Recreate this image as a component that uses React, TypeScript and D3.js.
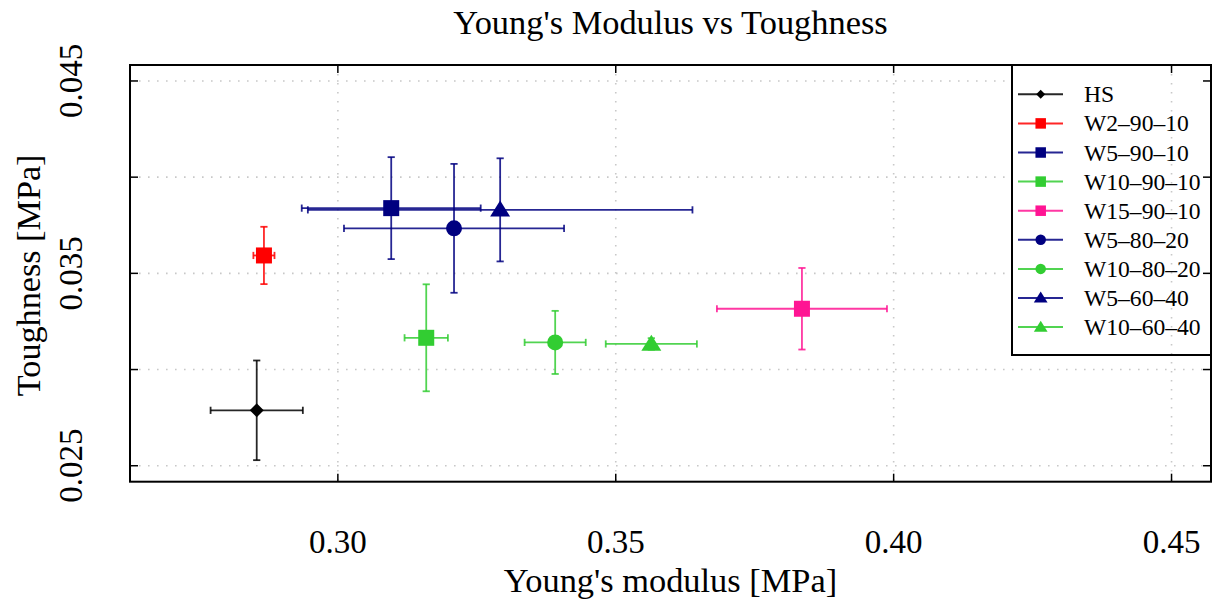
import React from "react";
import * as d3 from "d3";

const seriesNames = ["HS", "W2–90–10", "W5–90–10", "W10–90–10", "W15–90–10", "W5–80–20", "W10–80–20", "W5–60–40", "W10–60–40"];
const modulus = [0.2854, 0.2867, 0.3096, 0.3159, 0.3835, 0.3209, 0.3391, 0.3292, 0.3564];
const modulusErr = [0.0083, 0.0019, 0.0161, 0.0039, 0.0153, 0.0198, 0.0055, 0.0346, 0.0082];
const toughness = [0.02788, 0.03593, 0.03839, 0.03165, 0.03316, 0.03734, 0.03141, 0.0383, 0.03133];
const toughnessErr = [0.00259, 0.00149, 0.00265, 0.00278, 0.00212, 0.00335, 0.00164, 0.00268, 0.0003];
const seriesColors = ["#000000", "#ff0000", "#000080", "#32cd32", "#ff1493", "#000080", "#32cd32", "#000080", "#32cd32"];
const seriesMarkers = ["diamond", "square", "square", "square", "square", "circle", "circle", "triangle", "triangle"];
const xTicks = [0.3, 0.35, 0.4, 0.45];
const yTicks = [0.025, 0.03, 0.035, 0.04, 0.045];
const yTickLabels = [0.025, 0.035, 0.045];
const xDomain = [0.2626, 0.4571];
const yDomain = [0.02417, 0.04583];

const W = 1217;
const H = 609;
const L = 130, R = 1211, T = 65, B = 481.7;
const FONT = "'Liberation Serif', 'Times New Roman', serif";

function Marker({ type, cx, cy, s, color }: { type: string; cx: number; cy: number; s: number; color: string }) {
  if (type === "square") {
    return <rect x={cx - s / 2} y={cy - s / 2} width={s} height={s} fill={color} />;
  }
  if (type === "circle") {
    return <circle cx={cx} cy={cy} r={s / 2} fill={color} />;
  }
  if (type === "diamond") {
    const h = s / 2;
    return <path d={`M${cx},${cy - h}L${cx + h},${cy}L${cx},${cy + h}L${cx - h},${cy}Z`} fill={color} />;
  }
  const w = s * 1.25;
  return <path d={`M${cx},${cy - s * 0.58}L${cx + w / 2},${cy + s * 0.42}L${cx - w / 2},${cy + s * 0.42}Z`} fill={color} />;
}

export default function App() {
  const x = d3.scaleLinear().domain(xDomain).range([L, R]);
  const y = d3.scaleLinear().domain(yDomain).range([B, T]);
  const tick = 8;
  const cap = 3.6;
  const legX = 1012, legY = T, legW = R - 1012, legH = 355 - T;
  const rowY = (i: number) => 94.3 + i * 29.1;

  return (
    <svg width={W} height={H} style={{ position: "absolute", left: 0, top: 0, background: "#fff" }} fontFamily={FONT}>
      <rect x={0} y={0} width={W} height={H} fill="#fff" />
      {yTicks.map((t) => (
        <line key={"gy" + t} x1={L} x2={R} y1={y(t)} y2={y(t)} stroke="#c8c8c8" strokeWidth={1.6} strokeDasharray="1.6 7.4" />
      ))}
      <rect x={legX} y={legY} width={legW} height={legH} fill="#fff" />
      {xTicks.map((t) => (
        <line key={"gx" + t} x1={x(t)} x2={x(t)} y1={T} y2={B} stroke="#c8c8c8" strokeWidth={1.6} strokeDasharray="1.6 7.4" />
      ))}
      {seriesNames.map((n, i) => {
        const cx = x(modulus[i]);
        const cy = y(toughness[i]);
        const x0 = x(modulus[i] - modulusErr[i]);
        const x1 = x(modulus[i] + modulusErr[i]);
        const y0 = y(toughness[i] - toughnessErr[i]);
        const y1 = y(toughness[i] + toughnessErr[i]);
        const c = seriesColors[i];
        return (
          <g key={"e" + n} stroke={c} strokeWidth={1.8} strokeOpacity={0.85}>
            <line x1={x0} x2={x1} y1={cy} y2={cy} />
            <line x1={x0} x2={x0} y1={cy - cap} y2={cy + cap} />
            <line x1={x1} x2={x1} y1={cy - cap} y2={cy + cap} />
            <line x1={cx} x2={cx} y1={y0} y2={y1} />
            <line x1={cx - cap} x2={cx + cap} y1={y0} y2={y0} />
            <line x1={cx - cap} x2={cx + cap} y1={y1} y2={y1} />
          </g>
        );
      })}
      {seriesNames.map((n, i) => (
        <Marker key={"m" + n} type={seriesMarkers[i]} cx={x(modulus[i])} cy={y(toughness[i])} s={seriesMarkers[i] === "diamond" ? 14 : 16} color={seriesColors[i]} />
      ))}
      <rect x={L} y={T} width={R - L} height={B - T} fill="none" stroke="#000" strokeWidth={2} />
      {xTicks.map((t) => (
        <g key={"xt" + t} stroke="#000" strokeWidth={1.5}>
          <line x1={x(t)} x2={x(t)} y1={B} y2={B - tick} />
          <line x1={x(t)} x2={x(t)} y1={T} y2={T + tick} />
        </g>
      ))}
      {yTicks.map((t) => (
        <g key={"yt" + t} stroke="#000" strokeWidth={1.5}>
          <line x1={L} x2={L + tick} y1={y(t)} y2={y(t)} />
          <line x1={R} x2={R - tick} y1={y(t)} y2={y(t)} />
        </g>
      ))}
      {xTicks.map((t) => (
        <text key={"xl" + t} x={x(t)} y={553} textAnchor="middle" fontSize={33} fill="#000">
          {d3.format(".2f")(t)}
        </text>
      ))}
      {yTickLabels.map((t) => (
        <text key={"yl" + t} transform={`translate(82,${y(t)}) rotate(-90)`} textAnchor="middle" fontSize={33} fill="#000">
          {d3.format(".3f")(t)}
        </text>
      ))}
      <text x={(L + R) / 2} y={34} textAnchor="middle" fontSize={34.4} fill="#000">Young's Modulus vs Toughness</text>
      <text x={(L + R) / 2} y={592} textAnchor="middle" fontSize={34.4} fill="#000">Young's modulus [MPa]</text>
      <text transform={`translate(39.5,${(T + B) / 2 + 2}) rotate(-90)`} textAnchor="middle" fontSize={34.2} fill="#000">Toughness [MPa]</text>
      <rect x={legX} y={legY} width={legW} height={legH} fill="none" stroke="#000" strokeWidth={2} />
      {seriesNames.map((n, i) => {
        const cy = rowY(i);
        const c = seriesColors[i];
        const m = seriesMarkers[i];
        const s = m === "diamond" ? 9 : m === "triangle" ? 11 : 10.5;
        return (
          <g key={"lg" + n}>
            <line x1={1018} x2={1063} y1={cy} y2={cy} stroke={c} strokeWidth={2} strokeOpacity={0.85} />
            <Marker type={m} cx={1040.7} cy={cy} s={s} color={c} />
            <text x={1084} y={cy + 8} fontSize={23.6} fill="#000">{n}</text>
          </g>
        );
      })}
    </svg>
  );
}
